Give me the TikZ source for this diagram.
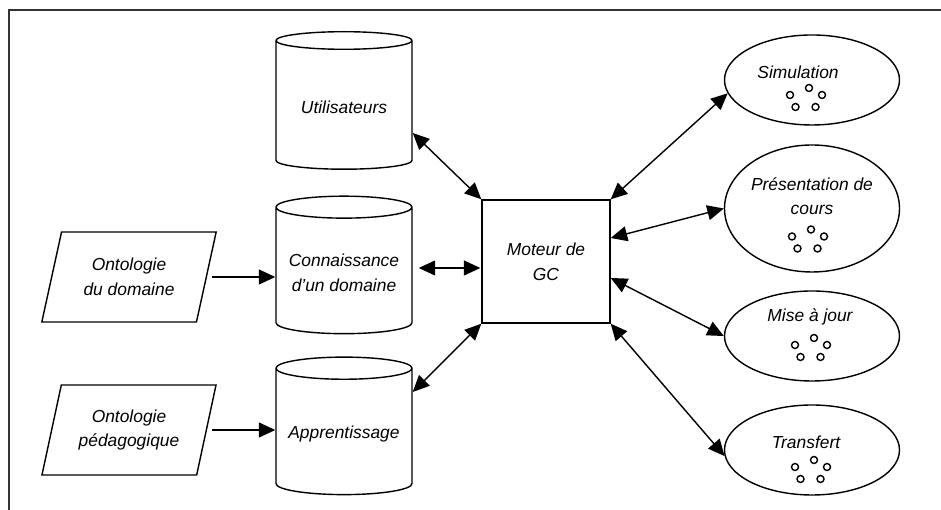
\documentclass[tikz,border=0pt]{standalone}
\usepackage{fontspec}
\setmainfont{Liberation Sans}
\usetikzlibrary{shapes,arrows,positioning,calc,arrows.meta}

\begin{document}
\begin{tikzpicture}[scale=1,
    >={Triangle[length=0.33cm,width=0.3cm]},
    every node/.style={font=\fontsize{9.9}{14}\selectfont\itshape, align=center},
    base/.style={draw, line width=0.8pt, cylinder, shape border rotate=90, aspect=0.18,
        minimum width=2.72cm, minimum height=2.75cm},
    onto/.style={draw, line width=0.8pt, trapezium, trapezium left angle=73,
        trapezium right angle=107, trapezium stretches=true,
        minimum width=3.5cm, minimum height=1.8cm},
    tache/.style={draw, line width=0.8pt, ellipse, minimum width=3.5cm, minimum height=1.8cm},
    fleche/.style={line width=0.8pt}
]
    \useasboundingbox (0,0) rectangle (18.82,10.2);
    \draw[line width=1pt, black!80] (0.18,0) -- (0.18,10) -- (18.82,10); % Cadre

    % Bases
    \node[base] (uti) at (6.88,8.06) {Utilisateurs};
    \node[base] (conn) at (6.88,4.74) {Connaissance\\d’un domaine};
    \node[base] (app) at (6.88,1.52) {Apprentissage};

    % Ontologies
    \node[onto] (odom) at (2.58,4.66) {Ontologie\\du domaine};
    \node[onto] (oped) at (2.58,1.6) {Ontologie\\pédagogique};

    % Moteur
    \node[draw, line width=0.8pt, minimum width=2.56cm, minimum height=2.46cm] (mot) at (10.92,4.97) {Moteur de\\GC};

    % Taches
    \node[tache] (sim) at (16.24,8.6) {};
    \node[tache, minimum height=2.54cm] (pres) at (16.24,6.03) {};
    \node[tache] (maj) at (16.24,3.48) {};
    \node[tache] (trans) at (16.24,1.2) {};
    \node (simt) at ($(sim)+(-0.28,0.16)$) {Simulation};
    \node (prest) at ($(pres)+(0,0.25)$) {Présentation de\\cours};
    \node (majt) at ($(maj)+(-0.04,0.38)$) {Mise à jour};
    \node (transt) at ($(trans)+(-0.12,0.16)$) {Transfert};

    % Petits cercles
    \foreach \t/\dx/\dy in {sim/-0.12/-0.3, pres/-0.08/-0.56, maj/-0.02/-0.18, trans/-0.02/-0.34}
        \foreach \a/\b in {-0.32/0, 0.06/0.14, 0.32/0, -0.21/-0.24, 0.19/-0.24}
            \draw[line width=0.8pt] ($(\t)+(\dx,\dy)+(\a,\b)$) circle (0.07);

    % Ontologies vers les bases
    \draw[fleche,->] ([xshift=0.1cm]odom.east) -- (odom.east -| conn.west);
    \draw[fleche,->] ([xshift=0.1cm]oped.east) -- (oped.east -| app.west);

    % Bases et moteur
    \draw[fleche,<->] ([yshift=-0.52cm]uti.east) -- (mot.north west);
    \draw[fleche,<->] ([xshift=0.12cm,yshift=0.1cm]conn.east) -- ([xshift=-0.02cm,yshift=0.1cm]conn.east -| mot.west);
    \draw[fleche,<->] ([yshift=0.84cm]app.east) -- (mot.south west);

    % Moteur et taches
    \draw[fleche,<->] (mot.north east) -- (sim.189);
    \draw[fleche,<->] ([yshift=0.47cm]mot.east) -- (pres.west);
    \draw[fleche,<->] ([yshift=-0.33cm]mot.east) -- (maj.west);
    \draw[fleche,<->] (mot.south east) -- (trans.184);
\end{tikzpicture}
\end{document}
